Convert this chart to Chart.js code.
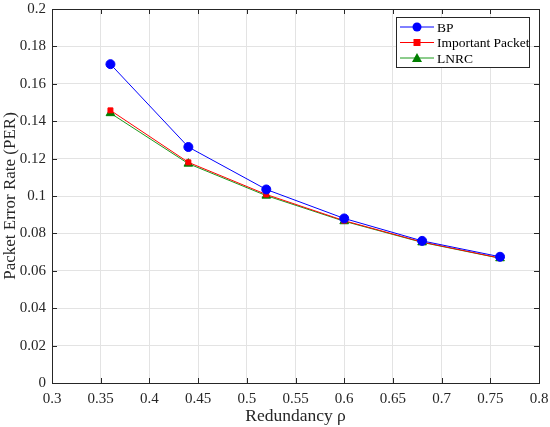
<!DOCTYPE html>
<html>
<head>
<meta charset="utf-8">
<script src="https://cdn.jsdelivr.net/npm/chart.js@4"></script>
<style>
  html, body { margin: 0; padding: 0; background: #fff; }
  #wrap { width: 550px; height: 427px; }
</style>
</head>
<body>
<div id="wrap"><canvas id="perChart"></canvas></div>
<script>
// data
const redundancy = [0.36, 0.44, 0.52, 0.60, 0.68, 0.76];
const bpPer = [0.1705, 0.1262, 0.1035, 0.0880, 0.0760, 0.0675];
const importantPer = [0.1458, 0.1180, 0.1008, 0.0868, 0.0754, 0.0668];
const lnrcPer = [0.1443, 0.1173, 0.1002, 0.0865, 0.0752, 0.0667];

const xTicks = [0.3, 0.35, 0.4, 0.45, 0.5, 0.55, 0.6, 0.65, 0.7, 0.75, 0.8];
const yTicks = [0, 0.02, 0.04, 0.06, 0.08, 0.1, 0.12, 0.14, 0.16, 0.18, 0.2];

const serif = "'Liberation Serif', 'DejaVu Serif', serif";
const axisColor = '#262626';

const toPoints = (ys) => redundancy.map((x, i) => ({ x: x, y: ys[i] }));

// MATLAB-ish box, inward ticks and the legend
const boxPlugin = {
  id: 'boxPlugin',
  afterDraw(chart) {
    const ctx = chart.ctx;
    const a = chart.chartArea;
    const xs = chart.scales.x;
    const ys = chart.scales.y;
    ctx.save();
    ctx.strokeStyle = axisColor;
    ctx.lineWidth = 1;
    ctx.beginPath();
    xTicks.forEach(function (v) {
      const px = Math.round(xs.getPixelForValue(v)) + 0.5;
      ctx.moveTo(px, a.bottom); ctx.lineTo(px, a.bottom - 5);
      ctx.moveTo(px, a.top); ctx.lineTo(px, a.top + 5);
    });
    yTicks.forEach(function (v) {
      const py = Math.round(ys.getPixelForValue(v)) + 0.5;
      ctx.moveTo(a.left, py); ctx.lineTo(a.left + 5, py);
      ctx.moveTo(a.right, py); ctx.lineTo(a.right - 5, py);
    });
    ctx.stroke();
    ctx.strokeRect(Math.round(a.left) + 0.5, Math.round(a.top) + 0.5,
      Math.round(a.right - a.left), Math.round(a.bottom - a.top));

    // legend
    const lx = 396, ly = 17, lw = 133, lh = 50;
    ctx.fillStyle = '#fff';
    ctx.fillRect(lx, ly, lw, lh);
    ctx.strokeStyle = axisColor;
    ctx.strokeRect(lx + 0.5, ly + 0.5, lw, lh);
    ctx.font = '13.5px ' + serif;
    ctx.textBaseline = 'middle';
    chart.data.datasets.forEach(function (ds, i) {
      const y = ly + 10 + i * 15.5;
      ctx.strokeStyle = ds.borderColor;
      ctx.lineWidth = 1;
      ctx.beginPath();
      ctx.moveTo(lx + 4, y); ctx.lineTo(lx + 38, y);
      ctx.stroke();
      ctx.fillStyle = ds.pointBackgroundColor;
      const mx = lx + 21;
      ctx.beginPath();
      if (ds.pointStyle === 'circle') {
        ctx.arc(mx, y, 4.5, 0, Math.PI * 2);
      } else if (ds.pointStyle === 'rect') {
        ctx.rect(mx - 3.5, y - 3.5, 7, 7);
      } else {
        ctx.moveTo(mx, y - 5); ctx.lineTo(mx + 5, y + 4); ctx.lineTo(mx - 5, y + 4);
        ctx.closePath();
      }
      ctx.fill();
      ctx.fillStyle = '#000';
      ctx.fillText(ds.label, lx + 41, y + 1);
    });
    ctx.restore();
  }
};

new Chart(document.getElementById('perChart'), {
  type: 'line',
  data: {
    datasets: [
      {
        label: 'BP',
        data: toPoints(bpPer),
        borderColor: '#0000ff',
        backgroundColor: '#0000ff',
        pointBackgroundColor: '#0000ff',
        pointBorderColor: '#0000ff',
        pointStyle: 'circle',
        pointRadius: 4.5,
        borderWidth: 1,
      },
      {
        label: 'Important Packet',
        data: toPoints(importantPer),
        borderColor: '#ff0000',
        backgroundColor: '#ff0000',
        pointBackgroundColor: '#ff0000',
        pointBorderColor: '#ff0000',
        pointStyle: 'rect',
        pointRadius: 3.5,
        borderWidth: 1,
      },
      {
        label: 'LNRC',
        data: toPoints(lnrcPer),
        borderColor: '#1a9a1a',
        backgroundColor: '#007f00',
        pointBackgroundColor: '#007f00',
        pointBorderColor: '#007f00',
        pointStyle: 'triangle',
        pointRadius: 5,
        borderWidth: 1,
      },
    ],
  },
  options: {
    responsive: true,
    maintainAspectRatio: false,
    animation: false,
    layout: { padding: { top: 9, right: 11, left: 0, bottom: 0 } },
    plugins: {
      legend: { display: false },
      tooltip: { enabled: false },
    },
    scales: {
      x: {
        type: 'linear',
        min: 0.3,
        max: 0.8,
        afterBuildTicks(scale) {
          scale.ticks = xTicks.map((v) => ({ value: v }));
        },
        afterFit(scale) {
          scale.height = 44;
          scale.paddingLeft = 0;
          scale.paddingRight = 0;
        },
        grid: { color: '#e3e3e3', drawTicks: false },
        border: { display: false },
        ticks: {
          color: '#262626',
          font: { family: serif, size: 15 },
          padding: 7,
          maxRotation: 0,
          callback: (v) => String(+v.toFixed(2)),
        },
        title: {
          display: true,
          text: 'Redundancy ρ',
          color: '#262626',
          font: { family: serif, size: 17.5 },
          padding: { top: 0, bottom: 0 },
        },
      },
      y: {
        type: 'linear',
        min: 0,
        max: 0.2,
        afterBuildTicks(scale) {
          scale.ticks = yTicks.map((v) => ({ value: v }));
        },
        afterFit(scale) {
          scale.width = 52;
          scale.paddingTop = 0;
          scale.paddingBottom = 0;
        },
        grid: { color: '#e3e3e3', drawTicks: false },
        border: { display: false },
        ticks: {
          color: '#262626',
          font: { family: serif, size: 15 },
          padding: 6,
          callback: (v) => String(+v.toFixed(2)),
        },
        title: {
          display: true,
          text: 'Packet Error Rate (PER)',
          color: '#262626',
          font: { family: serif, size: 17 },
          padding: { top: 0, bottom: 0 },
        },
      },
    },
  },
  plugins: [boxPlugin],
});
</script>
</body>
</html>
